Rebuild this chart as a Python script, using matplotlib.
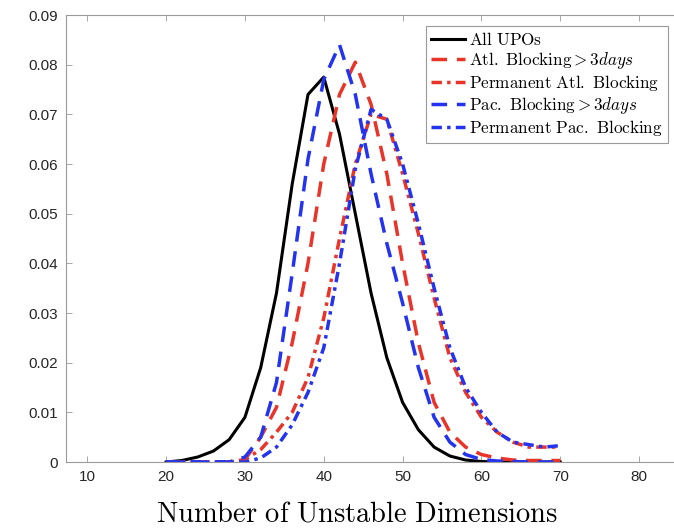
import numpy as np
import matplotlib
matplotlib.use('Agg')
import matplotlib.pyplot as plt
from matplotlib.ticker import FuncFormatter

# x positions (number of unstable dimensions)
dims = [20, 22, 24, 26, 28, 30, 32, 34, 36, 38, 40, 42, 44, 46, 48,
        50, 52, 54, 56, 58, 60, 62, 64, 66, 68, 70]

# densities
all_upos = [0.0, 0.0003, 0.001, 0.0022, 0.0045, 0.009, 0.019, 0.034, 0.056, 0.074, 0.0775,
            0.066, 0.050, 0.034, 0.021, 0.012, 0.0065, 0.003, 0.0012, 0.0004, 0.0001,
            0.0, 0.0, 0.0, 0.0, 0.0]
atl_3days = [0.0, 0.0, 0.0, 0.0, 0.0, 0.0005, 0.005, 0.011, 0.024, 0.040, 0.060,
             0.074, 0.0805, 0.072, 0.058, 0.040, 0.024, 0.012, 0.006, 0.003, 0.0015,
             0.0008, 0.0004, 0.0003, 0.0003, 0.0003]
atl_perm = [0.0, 0.0, 0.0, 0.0, 0.0, 0.0005, 0.0025, 0.006, 0.010, 0.017, 0.029,
            0.045, 0.060, 0.070, 0.069, 0.058, 0.046, 0.033, 0.021, 0.014, 0.009,
            0.006, 0.004, 0.003, 0.003, 0.003]
pac_3days = [0.0, 0.0, 0.0, 0.0, 0.0, 0.001, 0.005, 0.016, 0.038, 0.061, 0.077,
             0.084, 0.074, 0.058, 0.044, 0.032, 0.019, 0.009, 0.004, 0.0015, 0.0005,
             0.0002, 0.0001, 0.0, 0.0, 0.0]
pac_perm = [0.0, 0.0, 0.0, 0.0, 0.0, 0.0, 0.0008, 0.003, 0.0075, 0.014, 0.023,
            0.040, 0.059, 0.071, 0.069, 0.060, 0.048, 0.035, 0.023, 0.015, 0.010,
            0.006, 0.004, 0.0035, 0.003, 0.0033]

labels = [r'$\mathrm{All\ UPOs}$',
          r'$\mathrm{Atl.\ Blocking} > 3days$',
          r'$\mathrm{Permanent\ Atl.\ Blocking}$',
          r'$\mathrm{Pac.\ Blocking} > 3days$',
          r'$\mathrm{Permanent\ Pac.\ Blocking}$']

red = '#e9342a'
blue = '#2434ee'

plt.rcParams['mathtext.fontset'] = 'cm'
plt.rcParams['font.family'] = 'Liberation Sans'

fig = plt.figure(figsize=(6.74, 5.32), dpi=100)
# axes run past the right edge of the picture, as in the cropped original
ax = fig.add_axes([66 / 674, 1 - 462 / 532, (690 - 66) / 674, (462 - 15) / 532])

ax.plot(dims, all_upos, color='black', lw=2.2, label=labels[0])
ax.plot(dims, atl_3days, color=red, lw=2.5, dashes=(4.5, 2.8), label=labels[1])
ax.plot(dims, atl_perm, color=red, lw=2.5, dashes=(3, 1.5, 1, 1.5), label=labels[2])
ax.plot(dims, pac_3days, color=blue, lw=2.5, dashes=(4.5, 2.8), label=labels[3])
ax.plot(dims, pac_perm, color=blue, lw=2.5, dashes=(3, 1.5, 1, 1.5), label=labels[4])

ax.set_xlim(7.3, 86.46)
ax.set_ylim(0, 0.09)
ax.set_xticks(np.arange(10, 81, 10))
ax.set_yticks(np.arange(0, 0.0901, 0.01))
ax.yaxis.set_major_formatter(FuncFormatter(lambda v, p: '0' if abs(v) < 1e-9 else '%.2f' % v))

for s in ax.spines.values():
    s.set_color('#9a9a9a')
    s.set_linewidth(0.8)
ax.tick_params(direction='in', length=4, width=0.6, colors='#9a9a9a',
               labelcolor='#262626', labelsize=11, top=True, right=True, pad=6)

ax.set_xlabel(r'$\mathrm{Number\ of\ Unstable\ Dimensions}$', fontsize=20.5, va='center')
ax.xaxis.set_label_coords((357 - 66) / 624, -(514 - 462) / 447)

leg = ax.legend(loc='upper right', bbox_to_anchor=(668 / 674, 1 - 26 / 532),
                bbox_transform=fig.transFigure, fontsize=12.3, handlelength=2.0,
                handletextpad=0.25, labelspacing=0.12, borderpad=0.3,
                borderaxespad=0, fancybox=False, framealpha=1)
leg.get_frame().set_edgecolor('#9a9a9a')
leg.get_frame().set_linewidth(0.8)

fig.savefig('out.png', dpi=100)
